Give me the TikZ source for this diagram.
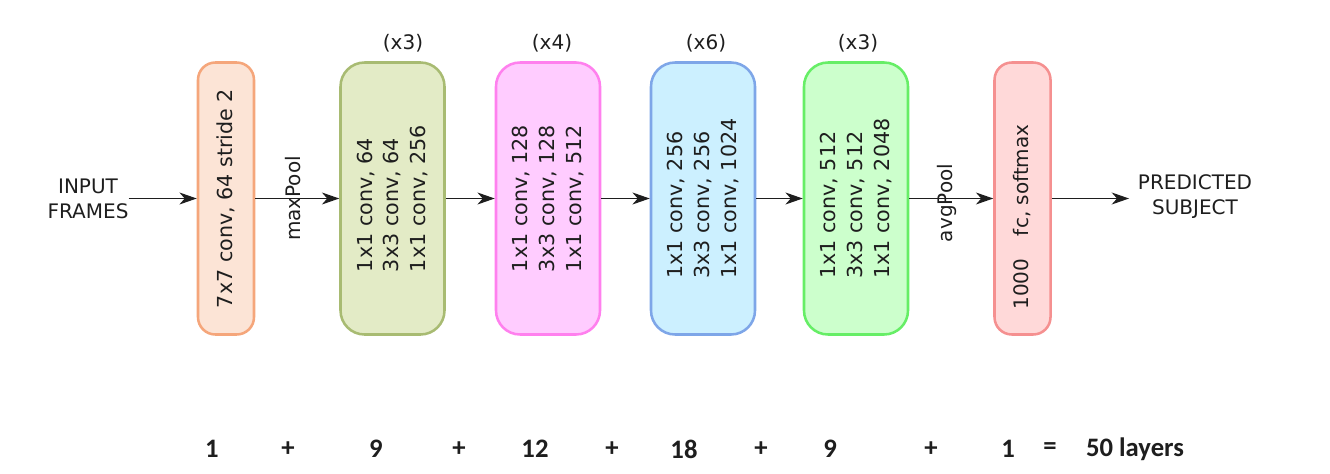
\documentclass[tikz,border=0pt]{standalone}
\usepackage{fontspec}
\setmainfont{DejaVu Sans}
\newfontfamily\sumfont{Carlito}
\usetikzlibrary{arrows.meta}

\definecolor{inkcol}{HTML}{1E1E1E}
\definecolor{stemfill}{HTML}{FCE4D6}
\definecolor{stemline}{HTML}{F5A67B}
\definecolor{olivefill}{HTML}{E3EBC6}
\definecolor{oliveline}{HTML}{A8BB72}
\definecolor{pinkfill}{HTML}{FFCCFF}
\definecolor{pinkline}{HTML}{FF80EE}
\definecolor{bluefill}{HTML}{CCF0FF}
\definecolor{blueline}{HTML}{7EA6E8}
\definecolor{greenfill}{HTML}{CCFFCC}
\definecolor{greenline}{HTML}{66EE66}
\definecolor{redfill}{HTML}{FFD9D9}
\definecolor{redline}{HTML}{F59090}

\tikzset{
  block/.style={draw, rotate=90, rounded corners=18pt, line width=1.9pt,
    minimum width=204pt, minimum height=78pt, inner sep=0pt, align=left,
    text=inkcol, font=\fontsize{15.5}{19.9}\selectfont},
  thinblock/.style={block, minimum height=42pt, rounded corners=13pt},
  flow/.style={draw=inkcol, line width=1pt, -{Stealth[length=13pt,width=9pt,inset=4pt]}},
  iolabel/.style={align=center, inner sep=0pt, text=inkcol, font=\fontsize{15}{18.75}\selectfont},
  small/.style={inner sep=0pt, text=inkcol, font=\fontsize{15}{18}\selectfont},
  sumtext/.style={inner sep=0pt, text=inkcol, font=\sumfont\bfseries\fontsize{20}{24}\selectfont}
}

\begin{document}
\begin{tikzpicture}[x=0.75pt,y=0.75pt,yscale=-1,xscale=1]
    \useasboundingbox (0,0) rectangle (1330,474);

    % Blocks
    \node [thinblock, draw=stemline, fill=stemfill] (conv1) at (226,198.5) {7x7 conv, 64 stride 2};
    \node [block, draw=oliveline, fill=olivefill] (conv2) at (392.5,198.5) {1x1 conv, 64\\3x3 conv, 64\\1x1 conv, 256};
    \node [block, draw=pinkline, fill=pinkfill] (conv3) at (548,198.5) {1x1 conv, 128\\3x3 conv, 128\\1x1 conv, 512};
    \node [block, draw=blueline, fill=bluefill] (conv4) at (703,198.5) {1x1 conv, 256\\3x3 conv, 256\\1x1 conv, 1024};
    \node [block, draw=greenline, fill=greenfill] (conv5) at (856,198.5) {1x1 conv, 512\\3x3 conv, 512\\1x1 conv, 2048};
    \node [thinblock, draw=redline, fill=redfill] (fc) at (1022.5,198.5) {};
    \node [small, rotate=90] (fctext) at (1022,217) {1000\hspace{17pt}fc, softmax};

    % Input and output
    \node [iolabel] (input) at (88,199) {INPUT\\FRAMES};
    \node [iolabel, inner xsep=6.5pt] (output) at (1195,196.5) {PREDICTED\\SUBJECT};

    % Repetitions
    \node [small] (rep2) at (403,43) {(x3)};
    \node [small] (rep3) at (552,43) {(x4)};
    \node [small] (rep4) at (706,43) {(x6)};
    \node [small] (rep5) at (858,43) {(x3)};

    % Pooling
    \node [small, rotate=90] (maxpool) at (293,198.5) {maxPool};
    \node [small, rotate=90] (avgpool) at (947,203) {avgPool};

    % Connections
    \draw [flow] (input.east |- conv1.north) -- (conv1.north);
    \draw [flow] (conv1.south) -- (conv2.north);
    \draw [flow] (conv2.south) -- (conv3.north);
    \draw [flow] (conv3.south) -- (conv4.north);
    \draw [flow] (conv4.south) -- (conv5.north);
    \draw [flow] (conv5.south) -- (fc.north);
    \draw [flow] (fc.south) -- (output.west |- fc.south);

    % Layer count
    \node [sumtext] (s1) at (212,449) {1};
    \node [sumtext] (p1) at (288,449) {+};
    \node [sumtext] (s2) at (376,449) {9};
    \node [sumtext] (p2) at (459,449) {+};
    \node [sumtext] (s3) at (535,449) {12};
    \node [sumtext] (p3) at (612,449) {+};
    \node [sumtext] (s4) at (684,449) {18};
    \node [sumtext] (p4) at (761,449) {+};
    \node [sumtext] (s5) at (830,449) {9};
    \node [sumtext] (p5) at (931,449) {+};
    \node [sumtext] (s6) at (1008,449) {1};
    \node [sumtext] (eq) at (1050,449) {=};
    \node [sumtext] (total) at (1135,449) {50 layers};

\end{tikzpicture}
\end{document}
